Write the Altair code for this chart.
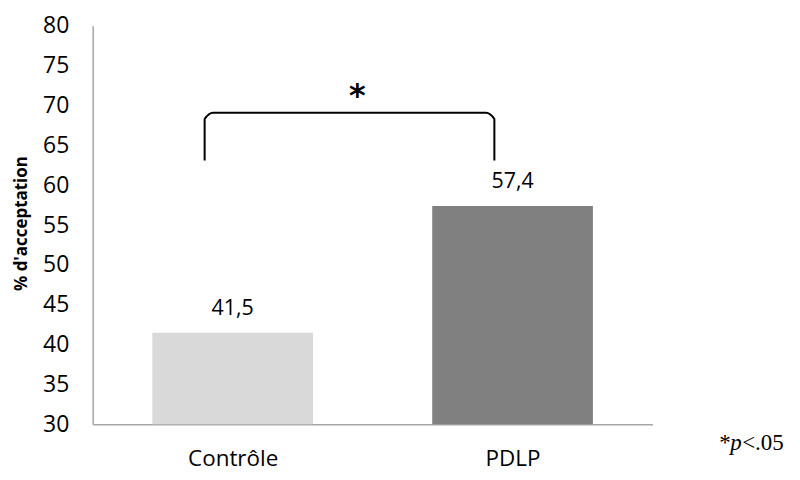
import altair as alt
import pandas as pd

categories = ["Contrôle", "PDLP"]
values = [41.5, 57.4]
value_labels = ["41,5", "57,4"]
colors = ["#d9d9d9", "#808080"]
centers = [0.5, 1.5]
half_width = 0.287

bars = pd.DataFrame({
    "cat": categories,
    "val": values,
    "lab": value_labels,
    "c": centers,
    "x0": [c - half_width for c in centers],
    "x1": [c + half_width for c in centers],
    "col": colors,
})

bracket_x = [0.40, 0.40, 0.43, 1.405, 1.435, 1.435]
bracket_y = [63.1, 68.3, 69.1, 69.1, 68.3, 63.1]
bracket = pd.DataFrame({"x": bracket_x, "y": bracket_y, "o": list(range(len(bracket_x)))})

star = pd.DataFrame({"x": [0.945], "y": [71.8], "t": ["*"]})

y_ticks = [30, 35, 40, 45, 50, 55, 60, 65, 70, 75, 80]

xscale = alt.Scale(domain=[0, 2], nice=False, zero=False)
yscale = alt.Scale(domain=[30, 80], nice=False, zero=False)

label_expr = "datum.value < 1 ? 'Contrôle' : 'PDLP'"

xaxis = alt.Axis(values=centers, labelExpr=label_expr, title=None, grid=False,
                 ticks=False, domainColor="#a6a6a6", domainWidth=1.5,
                 labelFont="Open Sans", labelFontSize=22.5, labelColor="#000000",
                 labelPadding=23, labelOverlap=False)
yaxis = alt.Axis(values=y_ticks, title="% d'acceptation", grid=False,
                 ticks=False, domainColor="#a6a6a6", domainWidth=1.5,
                 labelFont="Open Sans", labelFontSize=23, labelColor="#000000",
                 labelPadding=24, labelOverlap=False, labelBound=False,
                 titleFont="Open Sans", titleFontSize=17,
                 titleFontWeight="bold", titleColor="#000000",
                 titleX=-62, titleY=198)

base_bars = alt.Chart(bars).mark_bar().encode(
    x=alt.X("x0:Q", scale=xscale, axis=xaxis),
    x2="x1:Q",
    y=alt.Y("val:Q", scale=yscale, axis=yaxis),
    y2=alt.Y2(datum=30),
    color=alt.Color("col:N", scale=None),
)

text_vals = alt.Chart(bars).mark_text(font="Open Sans", fontSize=21.5, dy=-24, color="#000000").encode(
    x=alt.X("c:Q", scale=xscale, axis=xaxis),
    y=alt.Y("val:Q", scale=yscale, axis=yaxis),
    text="lab:N",
)

bracket_line = alt.Chart(bracket).mark_line(color="#000000", strokeWidth=2, interpolate="monotone").encode(
    x=alt.X("x:Q", scale=xscale, axis=xaxis),
    y=alt.Y("y:Q", scale=yscale, axis=yaxis),
    order="o:Q",
)

star_text = alt.Chart(star).mark_text(font="DejaVu Sans", fontSize=32, fontWeight="bold", color="#000000", dy=5).encode(
    x=alt.X("x:Q", scale=xscale, axis=xaxis),
    y=alt.Y("y:Q", scale=yscale, axis=yaxis),
    text="t:N",
)

note = pd.DataFrame({"x": [2.2384, 2.2776, 2.3203], "t": ["*", "p", "<.05"]})
note_y = 27.7
note_star = alt.Chart(note.iloc[[0]]).mark_text(font="Liberation Serif", fontSize=23, align="left", color="#000000", clip=False).encode(
    x=alt.X("x:Q", scale=xscale, axis=xaxis), y=alt.Y(datum=note_y, scale=yscale, axis=yaxis), text="t:N")
note_p = alt.Chart(note.iloc[[1]]).mark_text(font="Liberation Serif", fontSize=23, fontStyle="italic", align="left", color="#000000", clip=False).encode(
    x=alt.X("x:Q", scale=xscale, axis=xaxis), y=alt.Y(datum=note_y, scale=yscale, axis=yaxis), text="t:N")
note_rest = alt.Chart(note.iloc[[2]]).mark_text(font="Liberation Serif", fontSize=23, align="left", color="#000000", clip=False).encode(
    x=alt.X("x:Q", scale=xscale, axis=xaxis), y=alt.Y(datum=note_y, scale=yscale, axis=yaxis), text="t:N")

chart = alt.layer(base_bars, text_vals, bracket_line, star_text, note_star, note_p, note_rest).properties(
    width=562, height=400,
    autosize=alt.AutoSizeParams(type="none"),
    padding={"left": 85, "top": 17, "right": 140, "bottom": 50},
    background="#ffffff",
).configure_view(stroke=None)

chart.save("out.html", embed_options={"renderer": "svg", "actions": False})
